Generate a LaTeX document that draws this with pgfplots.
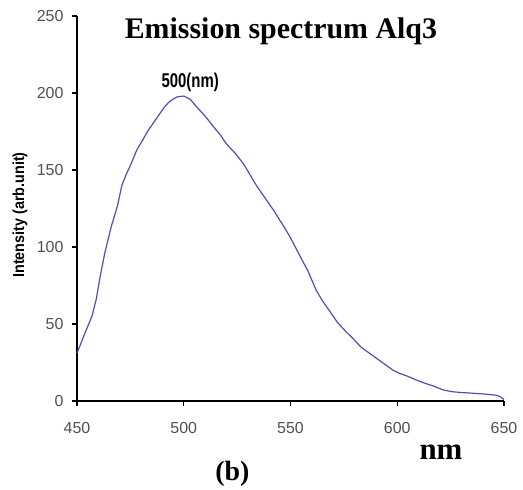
\documentclass[border=0pt]{standalone}
\usepackage{fontspec}
\setmainfont{Liberation Serif}
\newfontfamily\arial{Liberation Sans}
\usepackage{pgfplots}
\pgfplotsset{compat=1.18}
\definecolor{spec}{HTML}{5050B0}
\definecolor{ticktxt}{HTML}{505050}

\begin{document}
\begin{tikzpicture}
\begin{axis}[
  at={(0,0)},anchor=south west,
  scale only axis,width=427bp,height=385bp,
  xmin=450,xmax=650,ymin=0,ymax=250,
  xtick={450,500,550,600,650},
  ytick={0,50,100,150,200,250},
  axis x line*=bottom,axis y line*=left,
  axis line style={line width=1.6bp,-},
  tick align=outside,major tick length=5bp,
  every tick/.style={black,line width=1.4bp},
  tick label style={font=\arial\fontsize{16}{16}\selectfont,text=ticktxt},
  /pgf/number format/assume math mode=true,
  /pgf/number format/1000 sep={},
  yticklabel style={xshift=-5bp},
  xticklabel style={yshift=-13bp},
  clip=false]
  \addplot[spec,line width=1.2bp] coordinates {
    (450,31) (452,38) (454,45) (457,55) (459,66) (461,82) (463,96)
    (466,113) (469,127) (471,140) (473,147) (475,153) (478,163) (481,170)
    (483,175) (486,181) (489,187) (491,191) (493,194) (495,196) (497,197.5)
    (500,198) (503,196) (506,191) (510,185) (514,178) (517,173) (520,167)
    (524,161) (528,154) (531,147) (534,140) (538,132) (542,124) (547,113)
    (550,106) (553,98) (556,90) (558,85) (562,72) (565,65) (568,59)
    (572,51) (576,45) (579,41) (583,35) (586,32) (590,28) (594,24)
    (598,20) (601,18) (605,16) (609,13.6) (613,11.5) (617,9.7) (620,8)
    (622,7) (626,6) (630,5.5) (636,5) (641,4.5) (646,3.8) (648,3) (650,1)};
  \node[font=\bfseries\fontsize{30}{30}\selectfont] at (axis cs:545.5,240) {Emission spectrum Alq3};
  \node at (axis cs:503,207) {\scalebox{0.75}[1]{\arial\bfseries\fontsize{20}{20}\selectfont 500(nm)}};
  \node[rotate=90] at (axis cs:423.3,120.8) {\scalebox{0.9}[1]{\arial\bfseries\fontsize{16}{16}\selectfont Intensity (arb.unit)}};
  \node[anchor=base,font=\bfseries\fontsize{31}{31}\selectfont] at (axis cs:620.5,-38.3) {nm};
  \node[font=\bfseries\fontsize{28}{28}\selectfont] at (axis cs:522.8,-47.1) {(b)};
\end{axis}
\pgfresetboundingbox
\useasboundingbox (-77bp,-89bp) rectangle (446bp,401bp);
\end{tikzpicture}
\end{document}
